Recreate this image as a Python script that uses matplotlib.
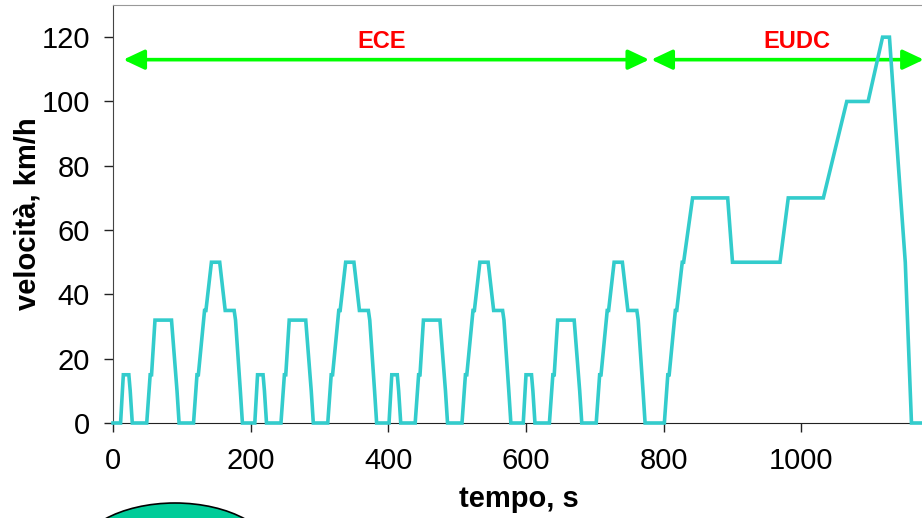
import matplotlib.pyplot as plt
from matplotlib.patches import Ellipse

plt.rcParams['font.family'] = ['Liberation Sans', 'DejaVu Sans']

# ECE urban part: four elementary cycles (time s, speed km/h)
ece_time = [0, 11, 15, 23, 25, 28, 49, 54, 56, 61, 85, 93, 96, 117, 122, 124, 133, 135, 143, 155, 163, 176, 178, 185, 188,
            195, 206, 210, 218, 220, 223, 244, 249, 251, 256, 280, 288, 291, 312, 317, 319, 328, 330, 338, 350, 358, 371, 373, 380, 383,
            390, 401, 405, 413, 415, 418, 439, 444, 446, 451, 475, 483, 486, 507, 512, 514, 523, 525, 533, 545, 553, 566, 568, 575, 578,
            585, 596, 600, 608, 610, 613, 634, 639, 641, 646, 670, 678, 681, 702, 707, 709, 718, 720, 728, 740, 748, 761, 763, 770, 773]
ece_speed = [0, 0, 15, 15, 10, 0, 0, 15, 15, 32, 32, 10, 0, 0, 15, 15, 35, 35, 50, 50, 35, 35, 32, 10, 0,
             0, 0, 15, 15, 10, 0, 0, 15, 15, 32, 32, 10, 0, 0, 15, 15, 35, 35, 50, 50, 35, 35, 32, 10, 0,
             0, 0, 15, 15, 10, 0, 0, 15, 15, 32, 32, 10, 0, 0, 15, 15, 35, 35, 50, 50, 35, 35, 32, 10, 0,
             0, 0, 15, 15, 10, 0, 0, 15, 15, 32, 32, 10, 0, 0, 15, 15, 35, 35, 50, 50, 35, 35, 32, 10, 0]

# EUDC extra-urban part
eudc_time = [801, 806, 808, 817, 819, 827, 829, 842, 893, 900, 969, 981, 1032, 1066, 1097, 1118, 1128, 1141, 1151, 1160, 1180]
eudc_speed = [0, 15, 15, 35, 35, 50, 50, 70, 70, 50, 50, 70, 70, 100, 100, 120, 120, 80, 50, 0, 0]

time_s = ece_time + eudc_time
speed = ece_speed + eudc_speed

x_ticks = [0, 200, 400, 600, 800, 1000]
y_ticks = [0, 20, 40, 60, 80, 100, 120]

# phase arrows: label, start, end, label position
phases = [('ECE', 15, 779, 390), ('EUDC', 782, 1178, 994)]
arrow_y = 113

fig = plt.figure(figsize=(9.22, 5.18), dpi=100)
ax = fig.add_axes([113 / 922, 95 / 518, 826 / 922, 418 / 518])

ax.plot(time_s, speed, color='#33CCCC', lw=2.6, solid_joinstyle='miter', clip_on=False, zorder=3)

for name, t0, t1, tx in phases:
    ax.annotate('', xy=(t1, arrow_y), xytext=(t0, arrow_y),
                arrowprops=dict(arrowstyle='<|-|>,head_length=0.85,head_width=0.4',
                                mutation_scale=15, color='#00FF00', lw=2.6,
                                shrinkA=0, shrinkB=0),
                annotation_clip=False, zorder=2)
    ax.text(tx, 118.5, name, color='red', fontsize=17, fontweight='bold',
            ha='center', va='center')

ax.set_xlim(0, 1200)
ax.set_ylim(0, 130)
ax.set_xticks(x_ticks)
ax.set_yticks(y_ticks)
ax.tick_params(labelsize=21, length=6.5, width=1, colors='#222222', labelcolor='black')
ax.tick_params(axis='y', pad=10)
ax.tick_params(axis='x', pad=11)

ax.spines['top'].set_color('#999999')
ax.spines['left'].set_color('#444444')
ax.spines['bottom'].set_color('#222222')
ax.spines['right'].set_visible(False)

ax.set_xlabel('tempo, s', fontsize=21, fontweight='bold', labelpad=7)
ax.xaxis.label.set_x(0.4915)
ax.set_ylabel('velocità, km/h', fontsize=21, fontweight='bold', labelpad=0)

# decorative disc peeking in at the bottom
disc = Ellipse((175, -41), 200, 112, transform=None, facecolor='#00CC99',
               edgecolor='black', lw=1.2)
fig.patches.append(disc)

fig.savefig('out.png', dpi=100)
